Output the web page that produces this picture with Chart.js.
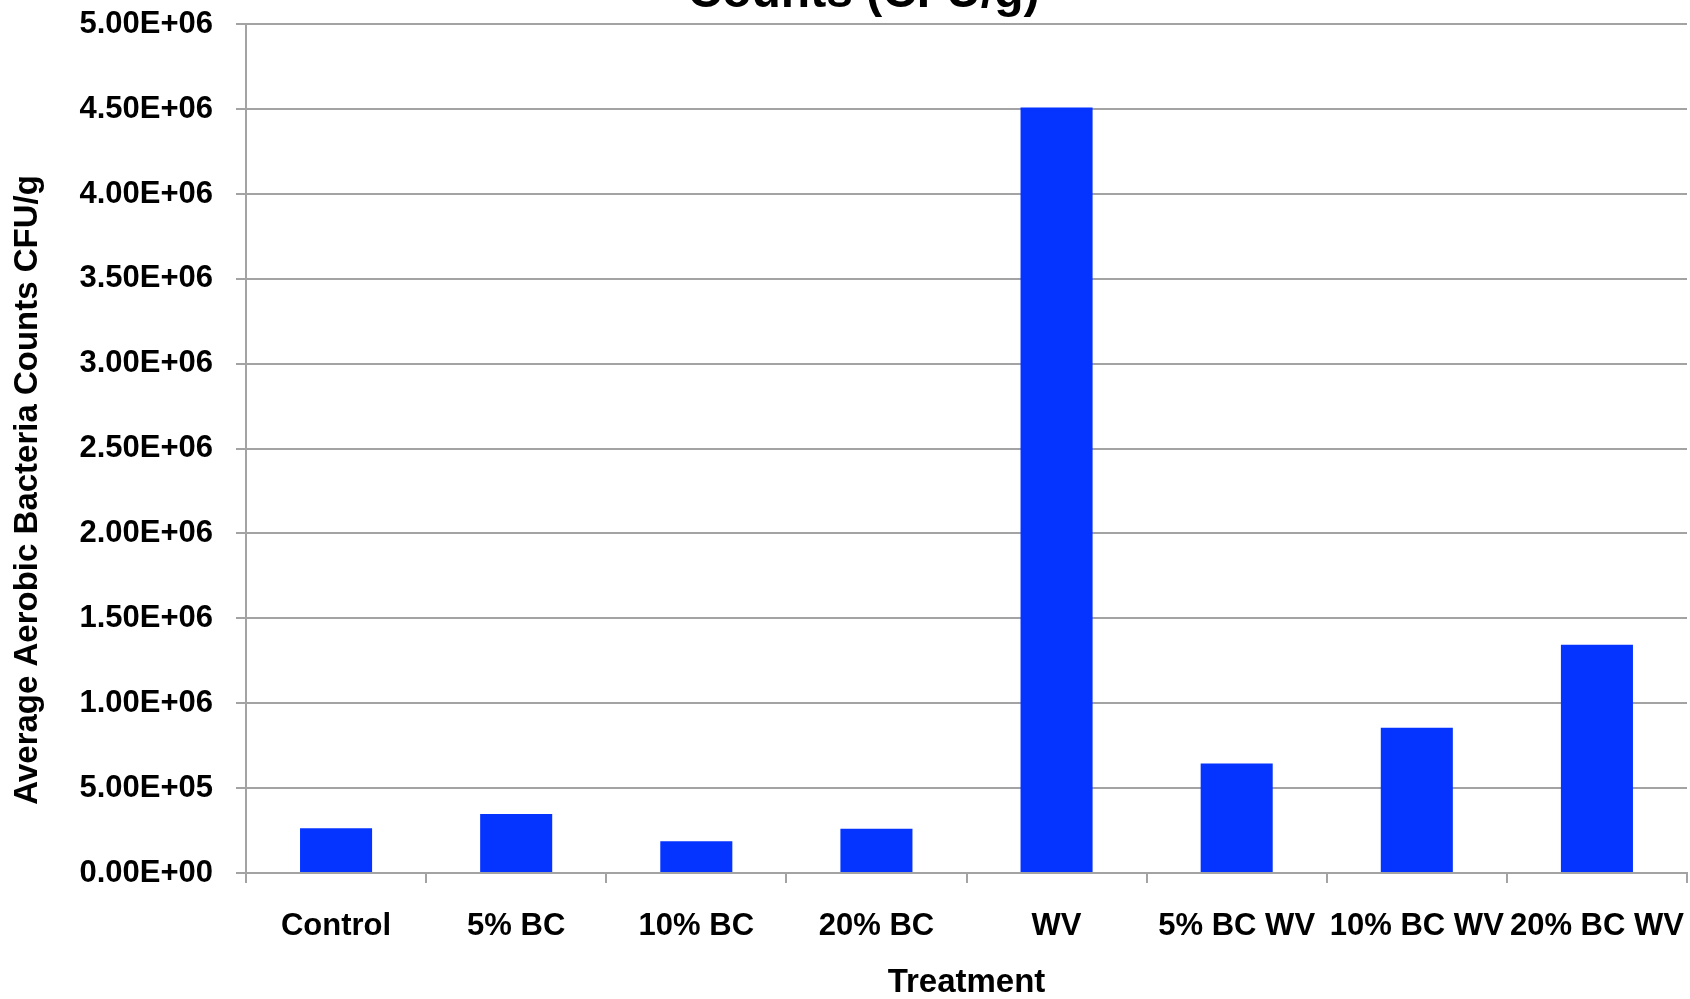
<!DOCTYPE html>
<html>
<head>
<meta charset="utf-8">
<title>Average Aerobic Bacteria Counts</title>
<script src="https://cdn.jsdelivr.net/npm/chart.js@4/dist/chart.umd.min.js"></script>
<style>
  html, body { margin: 0; padding: 0; background: #fff; overflow: hidden; }
  #wrap { position: absolute; left: 0; top: -110px; width: 1690px; height: 1109px; }
</style>
</head>
<body>
<div id="wrap"><canvas id="chart" width="1690" height="1109"></canvas></div>
<script>
// data
const treatments = ["Control", "5% BC", "10% BC", "20% BC", "WV", "5% BC WV", "10% BC WV", "20% BC WV"];
const avgCounts = [263000, 348000, 187000, 260000, 4510000, 645000, 856000, 1344000];
const yMin = 0;
const yMax = 5000000;
const yStep = 500000;

// the first title line sits above the visible page, as in the original
const chartTitle = ["Average Aerobic Bacteria", "   Counts (CFU/g)"];
const xTitle = "Treatment";
const yTitle = "Average Aerobic Bacteria Counts CFU/g";

const gridColor = "#a3a3a3";
const fontFamily = "'Liberation Sans', Arial, sans-serif";

// 5000000 -> "5.00E+06"
function sciLabel(v) {
  const parts = Number(v).toExponential(2).split("e");
  const sign = parts[1][0];
  const digits = parts[1].slice(1).padStart(2, "0");
  return parts[0] + "E" + sign + digits;
}

const ctx = document.getElementById("chart").getContext("2d");

new Chart(ctx, {
  type: "bar",
  data: {
    labels: treatments,
    datasets: [
      {
        label: "Average count",
        data: avgCounts,
        backgroundColor: "rgb(5, 51, 255)",
        borderWidth: 0,
        barPercentage: 0.4,
        categoryPercentage: 1.0,
      },
    ],
  },
  options: {
    responsive: false,
    animation: false,
    layout: { padding: { left: 0, right: 3, top: 0, bottom: 0 } },
    plugins: {
      legend: { display: false },
      tooltip: { enabled: false },
      title: {
        display: true,
        text: chartTitle,
        color: "#000",
        font: { family: fontFamily, size: 48, weight: "bold", lineHeight: 1.2 },
        padding: { top: 17, bottom: 2 },
      },
    },
    scales: {
      x: {
        offset: true,
        grid: {
          display: true,
          offset: true,
          drawOnChartArea: false,
          drawTicks: true,
          tickLength: 10,
          color: gridColor,
          lineWidth: 2,
        },
        border: { display: true, color: gridColor, width: 2 },
        ticks: {
          color: "#000",
          padding: 25,
          maxRotation: 0,
          autoSkip: false,
          font: { family: fontFamily, size: 31, weight: "bold" },
        },
        title: {
          display: true,
          text: xTitle,
          color: "#000",
          font: { family: fontFamily, size: 33, weight: "bold", lineHeight: 1 },
          padding: { top: 0, bottom: 0 },
        },
        afterFit: (scale) => {
          scale.height = 126;
          scale.paddingLeft = 0;
          scale.paddingRight = 0;
        },
      },
      y: {
        min: yMin,
        max: yMax,
        grid: {
          color: gridColor,
          lineWidth: 2,
          drawTicks: true,
          tickLength: 10,
        },
        border: { display: true, color: gridColor, width: 2 },
        ticks: {
          stepSize: yStep,
          color: "#000",
          padding: 23,
          font: { family: fontFamily, size: 31, weight: "bold" },
          callback: (value) => sciLabel(value),
        },
        title: {
          display: true,
          // trailing spaces push the rotated title down like in the original
          text: yTitle + "         ",
          color: "#000",
          font: { family: fontFamily, size: 33, weight: "bold", lineHeight: 1 },
          padding: { top: 11, bottom: 0 },
        },
        afterFit: (scale) => {
          scale.width = 246;
        },
      },
    },
  },
});
</script>
</body>
</html>
